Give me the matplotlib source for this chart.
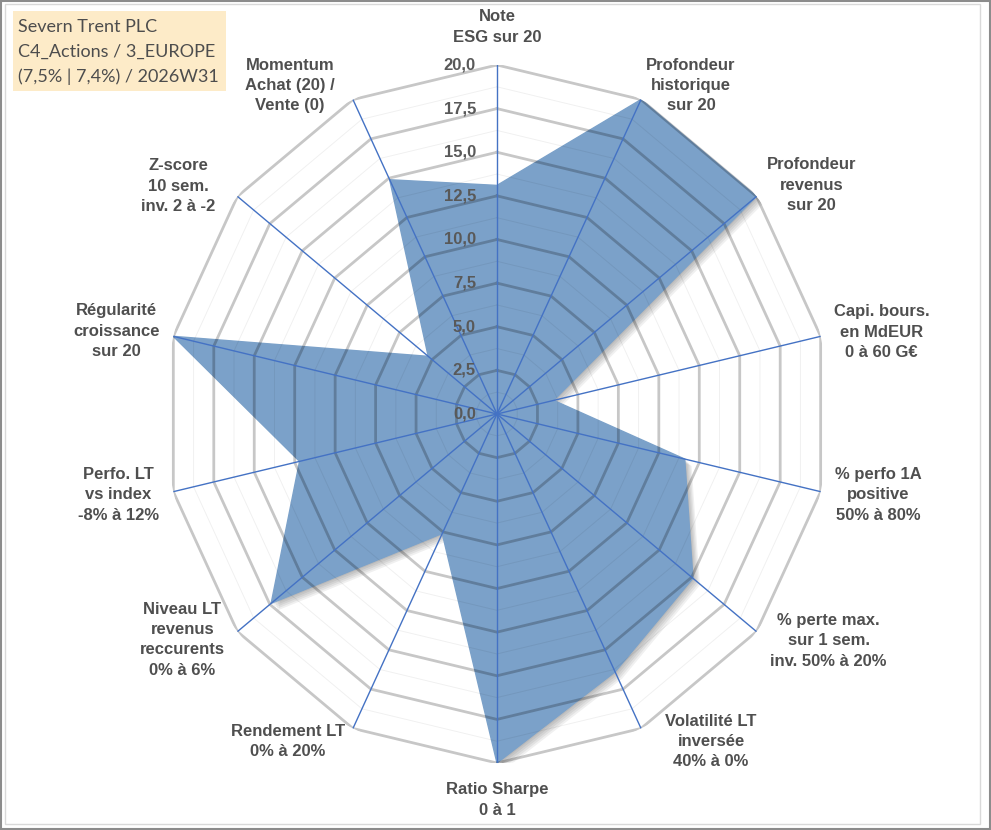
import numpy as np
import matplotlib
matplotlib.use("Agg")
import matplotlib.pyplot as plt
import matplotlib.patheffects as pe
from matplotlib.patches import Rectangle

# chart data
axis_labels = [
    "Note\nESG sur 20",
    "Profondeur\nhistorique\nsur 20",
    "Profondeur\nrevenus\nsur 20",
    "Capi. bours.\nen MdEUR\n0 à 60 G€",
    "% perfo 1A\npositive\n50% à 80%",
    "% perte max.\nsur 1 sem.\ninv. 50% à 20%",
    "Volatilité LT\ninversée\n40% à 0%",
    "Ratio Sharpe\n0 à 1",
    "Rendement LT\n0% à 20%",
    "Niveau LT\nrevenus\nreccurents\n0% à 6%",
    "Perfo. LT\nvs index\n-8% à 12%",
    "Régularité\ncroissance\nsur 20",
    "Z-score\n10 sem.\ninv. 2 à -2",
    "Momentum\nAchat (20) /\nVente (0)",
]
scores = [13.1, 20.0, 20.0, 3.5, 11.6, 15.1, 16.4, 20.0, 7.6, 17.4, 12.2, 20.0, 5.3, 14.9]
major_ticks = [0, 2.5, 5, 7.5, 10, 12.5, 15, 17.5, 20]
minor_ticks = [1.25, 3.75, 6.25, 8.75, 11.25, 13.75, 16.25, 18.75]
title_lines = ["Severn Trent PLC", "C4_Actions / 3_EUROPE", "(7,5% | 7,4%) / 2026W31"]

# label offsets in pixels from the outer vertex (layout only)
label_offsets = [(0, 38), (50, 14), (55, 11), (61, 4), (58, -3), (72, -9), (70, -13),
                 (0, -37), (-65, -13), (-55, -8), (-55, -3), (-57, 5), (-59, 10), (-63, 14)]

txt_col = "#4f4f4f"
spoke_col = "#4472c4"
fill_col = "#7ba1c9"

n = len(scores)
theta = np.linspace(0, 2 * np.pi, n, endpoint=False)
theta_c = np.append(theta, theta[0])
vals_c = np.append(scores, scores[0])

fig = plt.figure(figsize=(9.91, 8.30), dpi=100)
fig.patch.set_facecolor("white")

ax = fig.add_axes([0.1665, 0.0807, 0.670, 0.841], projection="polar")
ax.set_aspect("auto")
ax.set_theta_zero_location("N")
ax.set_theta_direction(-1)
ax.set_ylim(0, 20)
ax.grid(False)
ax.set_xticks([])
ax.set_yticks([])
ax.spines["polar"].set_visible(False)
ax.patch.set_alpha(0)

# data polygon with a soft shadow
shadow = [pe.SimplePatchShadow(offset=(k, -k), shadow_rgbFace="black", alpha=0.06)
          for k in (1, 2, 3, 4, 5)]
ax.fill(theta_c, vals_c, color=fill_col, zorder=1,
        path_effects=shadow + [pe.Normal()])

# polygon gridlines
for v in minor_ticks:
    ax.plot(theta_c, [v] * (n + 1), color="black", alpha=0.06, lw=0.7, zorder=2)
for v in major_ticks[1:]:
    ax.plot(theta_c, [v] * (n + 1), color="black", alpha=0.22, lw=2.0, zorder=2)

# spokes
for t in theta:
    ax.plot([t, t], [0, 20], color=spoke_col, lw=1.0, zorder=3)

# radial value labels
for v in major_ticks:
    ax.annotate(f"{v:.1f}".replace(".", ","), xy=(0, v), xytext=(-21, 0),
                textcoords="offset pixels", ha="right", va="center",
                fontsize=12, fontweight="bold", color="#595959",
                family="Liberation Sans", zorder=4)

# category labels
for t, lab, off in zip(theta, axis_labels, label_offsets):
    ax.annotate(lab, xy=(t, 20), xytext=off, textcoords="offset pixels",
                ha="center", va="center", multialignment="center",
                fontsize=12, fontweight="bold", color=txt_col,
                family="Liberation Sans", linespacing=1.45,
                annotation_clip=False)

# title box
fig.patches.append(Rectangle((13 / 991, 1 - 91 / 830), 213 / 991, 80 / 830,
                             transform=fig.transFigure, fc="#fdebc8", ec="none"))
fig.text(18 / 991, 1 - 52 / 830, "\n".join(title_lines), ha="left", va="center",
         fontsize=13, family="Lato", color="#4d4d4d", linespacing=1.62)

# chart frame
fig.patches.append(Rectangle((0.0015, 0.0015), 0.997, 0.997, transform=fig.transFigure,
                             fill=False, ec="#8c8c8c", lw=1.5))
fig.patches.append(Rectangle((5 / 991, 6 / 830), 975 / 991, 820 / 830,
                             transform=fig.transFigure, fill=False,
                             ec="#d9d9d9", lw=1.0))

fig.savefig("out.png", dpi=100)
